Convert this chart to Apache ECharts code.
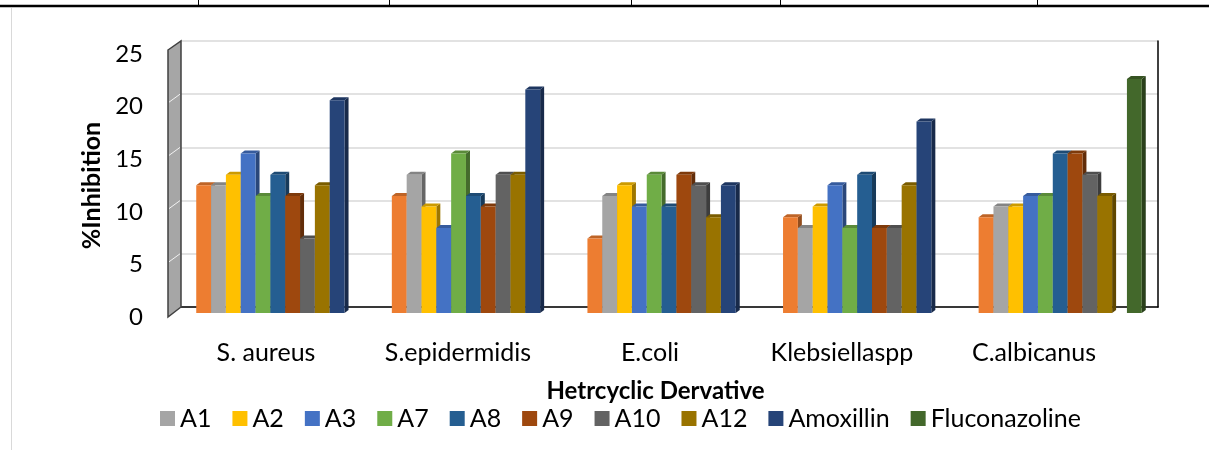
<!DOCTYPE html>
<html>
<head>
<meta charset="utf-8">
<script src="https://cdn.jsdelivr.net/npm/echarts@6/dist/echarts.min.js"></script>
<style>
  html, body { margin: 0; padding: 0; background: #fff; }
  #chart { width: 1209px; height: 450px; }
</style>
</head>
<body>
<div id="chart"></div>
<script>
// data
var categories = ['S. aureus', 'S.epidermidis', 'E.coli', 'Klebsiellaspp', 'C.albicanus'];
var seriesNames = ['', 'A1', 'A2', 'A3', 'A7', 'A8', 'A9', 'A10', 'A12', 'Amoxillin', 'Fluconazoline'];
var firstSeries = [12, 11, 7, 9, 9];   // orange, no legend entry
var a1 = [12, 13, 11, 8, 10];
var a2 = [13, 10, 12, 10, 10];
var a3 = [15, 8, 10, 12, 11];
var a7 = [11, 15, 13, 8, 11];
var a8 = [13, 11, 10, 13, 15];
var a9 = [11, 10, 13, 8, 15];
var a10 = [7, 13, 12, 8, 13];
var a12 = [12, 13, 9, 12, 11];
var amoxillin = [20, 21, 12, 18, 0];
var fluconazoline = [0, 0, 0, 0, 22];
var yTicks = [0, 5, 10, 15, 20, 25];

var seriesValues = [firstSeries, a1, a2, a3, a7, a8, a9, a10, a12, amoxillin, fluconazoline];
var colors = ['#ED7D31', '#A5A5A5', '#FFC000', '#4472C4', '#70AD47', '#255E91',
  '#9E480E', '#636363', '#997300', '#264478', '#43682B'];

var FONT = 'Lato';

function shade(hex, f) {
  var n = parseInt(hex.slice(1), 16);
  var r = Math.round(((n >> 16) & 255) * f);
  var g = Math.round(((n >> 8) & 255) * f);
  var b = Math.round((n & 255) * f);
  return 'rgb(' + r + ',' + g + ',' + b + ')';
}

// 3d-ish column: front face, top cap, right side
var makeRender = function(s, color) {
  var nSeries = seriesValues.length;
  return function(params, api) {
    var cat = api.value(0), val = api.value(1);
    if (!val) {
      return null;
    }
    var band = api.size([1, 0])[0];
    var groupW = band * 0.834;
    var bw = groupW / nSeries;
    var top = api.coord([cat, val]);
    var base = api.coord([cat, 0]);
    var x = top[0] - groupW / 2 + s * bw;
    var dx = 4, dy = 3;
    return {
      type: 'group',
      children: [
        {
          type: 'polygon',
          shape: { points: [[x + bw, top[1]], [x + bw + dx, top[1] - dy], [x + bw + dx, base[1] - dy], [x + bw, base[1]]] },
          style: { fill: shade(color, 0.62) }
        },
        {
          type: 'polygon',
          shape: { points: [[x, top[1]], [x + dx, top[1] - dy], [x + bw + dx, top[1] - dy], [x + bw, top[1]]] },
          style: { fill: shade(color, 0.8) }
        },
        {
          type: 'rect',
          shape: { x: x, y: top[1], width: bw, height: base[1] - top[1] },
          style: { fill: color }
        }
      ]
    };
  };
};

var series = [];
var i, j, rows;
for (i = 0; i < seriesValues.length; i++) {
  rows = [];
  for (j = 0; j < categories.length; j++) {
    rows.push([j, seriesValues[i][j]]);
  }
  series.push({
    name: seriesNames[i],
    type: 'custom',
    xAxisIndex: 0,
    yAxisIndex: 0,
    itemStyle: { color: colors[i] },
    renderItem: makeRender(i, colors[i]),
    data: rows,
    z: 3
  });
}

// side wall with white grid marks
var wall = [
  {
    type: 'polygon',
    shape: { points: [[168, 50], [181, 41], [181, 307], [168, 317]] },
    style: { fill: '#a6a6a6', stroke: '#404040', lineWidth: 1.5 },
    z: 5
  }
];
for (i = 1; i < yTicks.length - 1; i++) {
  var yy = 307 - i * 53.2;
  wall.push({
    type: 'line',
    shape: { x1: 169, y1: yy + 8, x2: 180, y2: yy },
    style: { stroke: '#f2f2f2', lineWidth: 1 },
    z: 6
  });
}

var pageLines = [
  { type: 'line', shape: { x1: 0, y1: 6, x2: 1209, y2: 6 }, style: { stroke: '#000', lineWidth: 2.5 } },
  { type: 'line', shape: { x1: 11.5, y1: 8, x2: 11.5, y2: 450 }, style: { stroke: '#d9d9d9', lineWidth: 1 } }
];
var cellX = [198, 389, 631, 780, 1037];
for (i = 0; i < cellX.length; i++) {
  pageLines.push({ type: 'line', shape: { x1: cellX[i] + 0.5, y1: 0, x2: cellX[i] + 0.5, y2: 6 }, style: { stroke: '#000', lineWidth: 1 } });
}

var option = {
  animation: false,
  backgroundColor: '#fff',
  textStyle: { fontFamily: FONT },
  grid: [
    { left: 180, top: 47, width: 978, height: 266 },   // columns (front plane)
    { left: 180, top: 41, width: 978, height: 266 },   // back wall
    { left: 170, top: 54, width: 960, height: 263 }    // labels
  ],
  xAxis: [
    { type: 'category', gridIndex: 0, data: categories, show: false },
    {
      type: 'category', gridIndex: 1, data: categories,
      axisLine: { lineStyle: { color: '#000', width: 1.5 } },
      axisTick: { show: false }, axisLabel: { show: false }
    },
    {
      type: 'category', gridIndex: 2, data: categories,
      axisLine: { show: false }, axisTick: { show: false },
      axisLabel: { margin: 23, fontSize: 25, color: '#000', fontFamily: FONT }
    }
  ],
  yAxis: [
    { type: 'value', gridIndex: 0, min: 0, max: 25, interval: 5, show: false },
    {
      type: 'value', gridIndex: 1, min: 0, max: 25, interval: 5,
      axisLine: { show: false }, axisTick: { show: false }, axisLabel: { show: false },
      splitLine: { lineStyle: { color: '#d9d9d9', width: 1.5 } }
    },
    {
      type: 'value', gridIndex: 1, position: 'right', min: 0, max: 25, interval: 5,
      axisLine: { show: true, lineStyle: { color: '#000', width: 1.5 } },
      axisTick: { show: false }, axisLabel: { show: false }, splitLine: { show: false }
    },
    {
      type: 'value', gridIndex: 2, min: 0, max: 25, interval: 5,
      axisLine: { show: false }, axisTick: { show: false }, splitLine: { show: false },
      axisLabel: { margin: 27, fontSize: 24, color: '#000', fontFamily: FONT },
      name: '%Inhibition', nameLocation: 'middle', nameGap: 64,
      nameTextStyle: { fontSize: 25, fontWeight: 'bold', color: '#000', fontFamily: FONT }
    }
  ],
  legend: {
    data: seriesNames.slice(1),
    left: 155,
    top: 401,
    icon: 'rect',
    itemWidth: 15,
    itemHeight: 15,
    itemGap: 21,
    textStyle: { fontSize: 25, color: '#000', fontFamily: FONT }
  },
  graphic: wall.concat(pageLines).concat([
    {
      type: 'text',
      x: 655.5,
      y: 391,
      style: {
        text: 'Hetrcyclic Dervative',
        fill: '#000',
        font: 'bold 24px ' + FONT,
        textAlign: 'center',
        textVerticalAlign: 'middle'
      }
    }
  ]),
  series: series
};

var myChart = echarts.init(document.getElementById('chart'));
myChart.setOption(option);
</script>
</body>
</html>
